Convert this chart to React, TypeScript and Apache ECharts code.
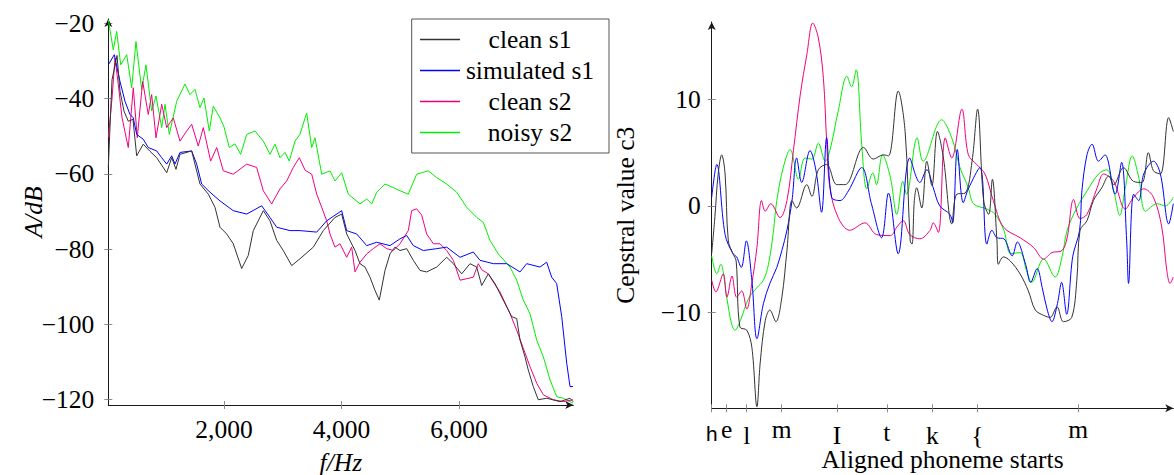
import React, { useEffect, useRef } from 'react';
import * as echarts from 'echarts';

const FONT = '"Liberation Serif", "DejaVu Serif", serif';
const FS = 25.5;

const seriesNames = ['clean s1', 'simulated s1', 'clean s2', 'noisy s2'];
const seriesColors = ['#333333', '#0000ff', '#f0007f', '#00ee00'];

const specFreqTicks = [2000, 4000, 6000];
const specDbTicks = [-120, -100, -80, -60, -40, -20];
const cepTicks = [-10, 0, 10];
const phonemeLabels = ['h', 'e', 'l', 'm', 'I', 't', 'k', '{', 'm'];
const phonemeStarts = [0, 3.25, 7.59, 15.17, 27.16, 37.94, 47.82, 57.58, 79.41];

// ---- Left: spectra (Hz, dB) ----
const specCleanS1 = [
  [31, -58.3], [94, -35], [179, -28.5], [230, -38], [298, -43.3], [371, -46], [451, -45.5], [514, -55.2],
  [626, -52.1], [740, -54], [854, -55.7], [1025, -59.7], [1110, -55.7], [1183, -58.8], [1251, -54.8],
  [1450, -53.9], [1506, -57.4], [1591, -62.7], [1733, -65.4], [1847, -68.9], [1932, -74.2], [2046, -76],
  [2158, -78.6], [2301, -85.2], [2413, -81.7], [2499, -75.1], [2669, -69.8], [2783, -72.5], [2897, -77.7],
  [3009, -80.4], [3152, -84.4], [3293, -82.6], [3520, -79.5], [3690, -75.1], [3889, -71.6], [4003, -70.7],
  [4088, -76], [4230, -80.4], [4315, -83.9], [4400, -84.8], [4485, -87.5], [4570, -91], [4643, -93.6],
  [4740, -85.7], [4825, -81.3], [4910, -79.5], [4995, -80.4], [5110, -79.9], [5222, -83], [5336, -85.7],
  [5450, -86.1], [5620, -84.8], [5790, -82.2], [5903, -83.9], [6046, -86.6], [6187, -83.9], [6301, -84.8],
  [6386, -89.7], [6498, -86.6], [6612, -89.2], [6697, -91.9], [6812, -95.4], [6897, -98], [6982, -98.5],
  [7038, -104.2], [7123, -108.7], [7179, -112.2], [7264, -116.6], [7349, -120.1], [7492, -119.7],
  [7719, -120.6], [7889, -119.7], [7940, -120.6],
];
const specSimulatedS1 = [
  [31, -31], [133, -28.3], [230, -35.4], [315, -40.7], [400, -44.2], [456, -45.1], [514, -49.5], [626, -50.8],
  [711, -53], [854, -53.9], [940, -55.7], [1025, -57.4], [1110, -55.2], [1166, -57.4], [1251, -54.3],
  [1450, -53.9], [1535, -57.4], [1620, -62.7], [1762, -64.9], [1932, -67.2], [2158, -69.8], [2386, -70.7],
  [2642, -68.5], [2783, -71.6], [2897, -74.2], [3123, -75.1], [3293, -75.1], [3578, -75.5], [3748, -72.5],
  [4003, -69.8], [4088, -75.1], [4259, -76], [4429, -79.1], [4599, -78.2], [4825, -79.1], [4995, -77.3],
  [5110, -76.4], [5222, -79.1], [5392, -80.4], [5620, -79.9], [5790, -79.5], [6017, -82.2], [6243, -80.8],
  [6357, -83], [6584, -83.9], [6812, -83.9], [7038, -86.1], [7152, -83.9], [7379, -84.8], [7492, -83.5],
  [7577, -87.5], [7662, -89.2], [7748, -98], [7833, -110.4], [7889, -116.6], [7940, -116.6],
];
const specCleanS2 = [
  [31, -50.4], [94, -40], [145, -29.2], [201, -36.2], [264, -45], [371, -53], [456, -37.1], [524, -50.4],
  [616, -35.4], [711, -44.2], [769, -38.9], [843, -50.4], [940, -41.5], [1025, -47.7], [1137, -45.1],
  [1251, -51.3], [1365, -48.6], [1450, -46.8], [1562, -52.6], [1648, -47.7], [1773, -56.6], [1876, -53],
  [1988, -59.2], [2158, -60.1], [2386, -57.4], [2556, -58.3], [2669, -64.5], [2812, -68], [2953, -64],
  [3067, -61.9], [3179, -58.3], [3282, -55.7], [3379, -59], [3493, -60.1], [3578, -65.4], [3663, -68.9],
  [3748, -72.5], [3804, -76], [3889, -79.5], [3974, -78.6], [4088, -82.2], [4173, -79.5], [4230, -86.1],
  [4315, -83.5], [4429, -81.3], [4541, -79.9], [4655, -78.6], [4769, -79.9], [4881, -80.4], [4995, -78.6],
  [5137, -75.1], [5194, -69.8], [5279, -69.3], [5365, -71], [5450, -76], [5563, -78.6], [5676, -78.6],
  [5790, -80.4], [5903, -83], [6017, -88.3], [6131, -87.9], [6243, -87.5], [6328, -83.9], [6386, -85.5],
  [6498, -86.6], [6584, -88.8], [6697, -91.4], [6868, -97.2], [6982, -101.6], [7094, -106.4], [7208, -111.3],
  [7322, -115.7], [7435, -118.8], [7605, -120.1], [7775, -120.6], [7940, -120.1],
];
const specNoisyS2 = [
  [31, -19], [116, -27], [174, -22.1], [242, -31], [344, -28.3], [429, -37.1], [502, -24.8], [599, -37.6],
  [672, -31], [769, -43.3], [843, -39.3], [940, -47.7], [996, -41.5], [1069, -49.5], [1195, -40.7],
  [1336, -36.1], [1421, -38.9], [1506, -37.5], [1591, -42.4], [1659, -39.8], [1750, -48.6], [1818, -42],
  [1932, -45.1], [2000, -47.5], [2090, -53], [2187, -52], [2284, -54.8], [2386, -49.5], [2528, -48.6],
  [2669, -51.3], [2783, -54.8], [2868, -52.1], [2953, -55.7], [3038, -54.3], [3111, -56.6], [3208, -51.3],
  [3293, -49.5], [3407, -43.8], [3493, -53], [3549, -50.4], [3663, -60.1], [3804, -59.2], [3889, -61.9],
  [4003, -59.7], [4116, -65.4], [4315, -68], [4429, -66.7], [4514, -68], [4599, -64.9], [4740, -62.7],
  [4859, -63.5], [4995, -64.5], [5137, -65.4], [5279, -60.1], [5477, -59.2], [5620, -61], [5790, -62.7],
  [5961, -64.9], [6131, -68.9], [6301, -71.6], [6413, -72.9], [6527, -77.7], [6669, -81.3], [6868, -84.8],
  [6982, -88.3], [7094, -93.6], [7208, -97.2], [7322, -104.2], [7435, -108.7], [7549, -114.8],
  [7662, -119.3], [7775, -119.7], [7940, -121],
];

// ---- Right: cepstral coefficient c3 over time (frames) ----
const cepCleanS1 = [
  [0, -4.5], [0.7, -1], [1.4, 3], [2.17, 4.8], [2.9, 3], [3.6, -3.3], [4.6, -4.5], [5.3, -5.2], [6.1, -11.4],
  [7.6, -11.7], [8.7, -13.3], [9.8, -18.9], [10.5, -14.8], [11.6, -10.8], [12.6, -9.8], [13.9, -10.9],
  [15.2, -8.6], [16.3, -4.2], [17.4, 0.5], [18.4, -0.2], [20.6, 2], [21.7, 0.9], [23.1, 3.4], [24.9, 3.9],
  [27.1, 2], [28.9, 2], [32.9, 5.5], [35.0, 4.4], [37.2, 4.8], [38.3, 4.7], [40.4, 10.8], [41.9, 7],
  [43.0, -3.3], [43.4, -3.6], [43.9, 0.5], [44.4, 1.7], [45.5, -0.2], [46.6, 4.2], [47.7, 1.9], [48.9, 7],
  [50.2, 4.5], [52.0, -1.7], [53.1, 1.1], [54.9, 1.2], [56.4, 4.2], [57.6, 9.1], [58.9, 0.5], [60.0, -0.8],
  [60.8, 2.5], [61.8, -3.3], [62.1, -5.5], [63.2, -4.8], [64.7, -5.2], [66.8, -6.4], [68.6, -8], [70.1, -9.8],
  [71.9, -10.3], [73.3, -10.5], [74.8, -9.5], [76.2, -10.9], [78.0, -10.5], [79.1, -7], [79.8, -2.3],
  [81.3, -1.4], [82.7, 0.5], [84.5, 1.7], [86.0, 2.8], [87.1, 2], [89.2, 3.6], [91.4, 2.3], [93.2, 2.2],
  [94.6, 5], [95.7, 3.3], [97.2, 3], [99.0, 8.3], [100, 7],
];
const cepSimulatedS1 = [
  [0, 0.8], [1.1, 3.9], [2.9, -2.7], [4.6, -4.5], [5.4, -4.8], [6.4, -5.8], [7.5, -3.3], [8.7, -7],
  [9.8, -12.5], [11.2, -9.2], [12.6, -7.3], [14.1, -5.8], [15.2, -4.2], [16.3, -2.3], [17.4, 0.5],
  [18.4, 4.5], [19.5, 2.2], [21.3, 5.2], [22.6, 3.3], [23.8, -0.6], [24.9, 6.4], [26.0, 0.8], [27.8, 0.5],
  [29.6, 1.4], [32.5, 3.6], [34.6, 0.2], [36.8, -3], [38.3, 1.2], [40.4, -4.5], [42.9, 4.5], [45.1, 2.2],
  [46.6, 3.4], [48.0, 1.7], [49.4, 0], [51.6, -0.8], [52.2, -1.6], [53.2, 5.3], [54.5, 0.3], [55.6, 1.6],
  [58.1, 3.6], [59.6, -3.6], [60.7, -2.3], [61.8, -3], [63.3, -3.1], [65.1, -4.7], [66.2, -3.4],
  [68.0, -5.5], [69.1, -7.2], [70.5, -5.9], [71.6, -7.7], [72.7, -9.8], [73.7, -10.9], [74.9, -9.2],
  [75.8, -7.2], [76.9, -10.2], [78.2, -4.8], [79.7, -2.3], [80.2, 1.4], [81.3, 4.8], [82.4, 5.8],
  [83.8, 4.2], [85.2, 4.8], [87.4, 1.1], [88.8, 4.1], [89.9, -3.3], [90.3, -7.3], [91.4, 1.1], [92.5, 0.5],
  [93.6, 3], [95.7, 4.2], [97.2, 3], [99.0, -1.7], [100, 0.2],
];
const cepCleanS2 = [
  [0, -7], [0.9, -8.1], [2.5, -6.4], [3.3, -8.6], [4.4, -6.6], [5.4, -8.6], [6.5, -8], [7.6, -9.7],
  [8.7, -7.3], [9.8, -3.9], [10.8, 0.5], [11.6, -0.5], [12.8, 0.2], [14.8, -1.1], [16.3, 0.5], [17.7, 5.2],
  [19.2, 10.5], [20.6, 14.2], [21.9, 17.2], [23.1, 15.8], [24.2, 12], [24.9, 6.1], [25.6, 1.7],
  [27.4, -1.1], [29.9, -2.3], [33.2, -1.6], [35.7, -2.7], [38.7, -2.8], [40.1, -2], [41.5, -1.4],
  [42.9, -2.7], [45.1, -3.1], [47.3, -2.3], [48.0, -1.6], [49.1, -2.5], [50.6, 6.4], [52.0, 4.5],
  [54.2, 9.1], [55.6, 4.8], [57.4, 3.9], [59.2, 3], [61.0, 0.5], [63.2, -2], [66.8, -3], [69.7, -3.9],
  [71.9, -5], [73.7, -4.4], [75.9, -4.2], [77.0, -3], [78.4, 0.6], [79.8, -1.2], [81.3, -0.8], [83.5, 1.7],
  [84.9, 3], [87.1, 2.3], [89.6, -0.3], [91.4, 0.8], [93.6, 1.6], [95.7, 0.8], [97.5, -2], [98.6, -6.1],
  [99.3, -7.3], [100, -6.7],
];
const cepNoisyS2 = [
  [0, -4.7], [1.1, -6.4], [1.95, -5.5], [3.25, -8.6], [4.3, -11.1], [5.05, -11.7], [6.2, -10.8],
  [8.0, -8.7], [9.8, -7.7], [11.2, -7], [12.3, -5.5], [13.4, -2.3], [14.1, 0.5], [15.5, 3.6], [17.0, 5.3],
  [18.8, 2.5], [20.2, 4.5], [21.7, 4.4], [23.1, 5.9], [24.6, 4.2], [25.6, 5.2], [27.4, 8.9], [29.3, 12.2],
  [30.3, 11.2], [31.3, 12.8], [32.5, 5.8], [33.6, 1.6], [34.9, 3.1], [35.7, 2], [37.0, 4.8], [38.7, 2.7],
  [40.1, -0.8], [41.4, 2.3], [42.2, 1.1], [44.5, 6.4], [45.8, 4.2], [49.8, 8.1], [52.0, 6.4], [53.8, 3.6],
  [55.6, 1.7], [56.7, 0.2], [59.6, -0.3], [61.4, -0.8], [63.3, -2.3], [64.8, -4.5], [66.8, -4.4],
  [68.2, -6.1], [69.3, -7.2], [71.9, -5], [74.4, -6.7], [75.9, -4.8], [77.0, -2.3], [79.1, -0.2],
  [81.3, 1.4], [83.8, 3], [85.6, 3.4], [87.1, 1.4], [88.4, -0.9], [89.6, 1.7], [91.1, 4.7], [92.5, 2.7],
  [94.0, -0.5], [96.5, 0.2], [98.3, 0], [100, 0.8],
];

const specSeries = [specCleanS1, specSimulatedS1, specCleanS2, specNoisyS2];
const cepSeries = [cepCleanS1, cepSimulatedS1, cepCleanS2, cepNoisyS2];

const minus = (v: number) => (v < 0 ? '\u2212' + Math.abs(v) : String(v));
const thousands = (v: number) => String(v).replace(/\B(?=(\d{3})+(?!\d))/g, ',');

const labelStyle = { color: '#000', fontFamily: FONT, fontSize: FS };
const tickColor = '#8c8c8c';

// phoneme labels are aligned at the top of their glyphs (as in TikZ "north" anchors)
const ascenders = ['l', 'I', 'k', '{'];
const phonemeRich = {
  x: { ...labelStyle, lineHeight: 32 },
  a: { ...labelStyle, lineHeight: 44 },
  t: { ...labelStyle, lineHeight: 38 },
  h: { color: '#000', fontFamily: '"Liberation Mono", monospace', fontSize: 21, lineHeight: 44 },
};

function axisPair(dim: 'x' | 'y', gridIndex: number, min: number, max: number, ticks: number[],
  fmt: (v: number) => string, margin: number, extra: any) {
  const isX = dim === 'x';
  const main: any = {
    type: 'value', gridIndex, min, max,
    position: isX ? 'bottom' : 'left',
    nameMoveOverlap: false,
    axisLine: {
      show: true, onZero: false,
      lineStyle: { color: '#1a1a1a', width: 1 },
      symbol: ['none', 'arrow'],
      symbolSize: [6, 8],
    },
    axisTick: { show: true, inside: false, length: 4, lineStyle: { color: tickColor }, customValues: ticks },
    axisLabel: { ...labelStyle, customValues: ticks, formatter: fmt, margin },
    splitLine: { show: false },
    ...extra,
  };
  const mirror: any = {
    type: 'value', gridIndex, min, max,
    position: isX ? 'bottom' : 'left',
    axisLine: { show: false, onZero: false },
    axisTick: { show: true, inside: true, length: 4, lineStyle: { color: tickColor }, customValues: ticks },
    axisLabel: { show: false },
    splitLine: { show: false },
  };
  return [main, mirror];
}

export default function App() {
  const ref = useRef<HTMLDivElement>(null);
  useEffect(() => {
    if (!ref.current) return;
    const chart = echarts.init(ref.current, null, { renderer: 'svg' });
    const [lx, lx2] = axisPair('x', 0, 31, 7945, specFreqTicks, thousands, 11, {
      name: 'f/Hz', nameLocation: 'middle', nameGap: 44,
      nameTextStyle: { ...labelStyle, fontStyle: 'italic' },
    });
    const [ly, ly2] = axisPair('y', 0, -121.5, -18.8, specDbTicks, minus, 14, {
      name: 'A/dB', nameLocation: 'middle', nameGap: 62, nameRotate: 90,
      nameTextStyle: { ...labelStyle, fontStyle: 'italic' },
    });
    const phonFmt = (v: number) => {
      const i = phonemeStarts.findIndex((p) => Math.abs(p - v) < 1e-6);
      if (i < 0) return '';
      const lab = phonemeLabels[i];
      if (lab === 'h') return '{h|h}';
      if (lab === 't') return '{t|t}';
      if (ascenders.includes(lab)) return `{a|${lab}}`;
      return `{x|${lab}}`;
    };
    const [rx, rx2] = axisPair('x', 1, 0, 100, phonemeStarts, phonFmt, 5, {
      name: 'Aligned phoneme starts', nameLocation: 'middle', nameGap: 38,
      nameTextStyle: { ...labelStyle },
    });
    rx.axisLabel.rich = phonemeRich;
    const [ry, ry2] = axisPair('y', 1, -19.05, 17.3, cepTicks, minus, 11, {
      name: 'Cepstral value c3', nameLocation: 'middle', nameGap: 73, nameRotate: 90,
      nameTextStyle: { ...labelStyle },
    });

    const series: any[] = [];
    seriesNames.forEach((n, i) => {
      series.push({
        type: 'line', name: n, xAxisIndex: 0, yAxisIndex: 0, data: specSeries[i],
        showSymbol: false, symbol: 'none', lineStyle: { color: seriesColors[i], width: 1 },
        itemStyle: { color: seriesColors[i] }, z: 4 - i, silent: true,
      });
    });
    seriesNames.forEach((n, i) => {
      series.push({
        type: 'line', name: n, xAxisIndex: 2, yAxisIndex: 2, data: cepSeries[i], smooth: 0.35,
        showSymbol: false, symbol: 'none', lineStyle: { color: seriesColors[i], width: 1 },
        itemStyle: { color: seriesColors[i] }, z: 4 - i, silent: true,
      });
    });

    chart.setOption({
      animation: false,
      backgroundColor: '#fff',
      grid: [
        { left: 108.3, top: 19, width: 465, height: 386, containLabel: false, outerBoundsMode: 'none' },
        { left: 711.7, top: 22, width: 461.6, height: 386.3, containLabel: false, outerBoundsMode: 'none' },
      ],
      xAxis: [lx, lx2, rx, rx2],
      yAxis: [ly, ly2, ry, ry2],
      legend: {
        data: seriesNames,
        orient: 'vertical',
        left: 411.7,
        top: 19,
        padding: [7.5, 14, 7.5, 8.3],
        itemGap: 5,
        itemWidth: 40,
        itemHeight: 1.4,
        icon: 'rect',
        borderColor: '#555',
        borderWidth: 1,
        backgroundColor: '#fff',
        selectedMode: false,
        formatter: (n: string) => `{t|${n}}`,
        textStyle: {
          ...labelStyle,
          rich: { t: { ...labelStyle, width: 130, align: 'center', lineHeight: 26 } },
        },
      },
      series,
    });
    return () => chart.dispose();
  }, []);

  return (
    <div
      ref={ref}
      style={{ position: 'absolute', left: 0, top: 0, width: 1174, height: 475, background: '#fff' }}
    />
  );
}
